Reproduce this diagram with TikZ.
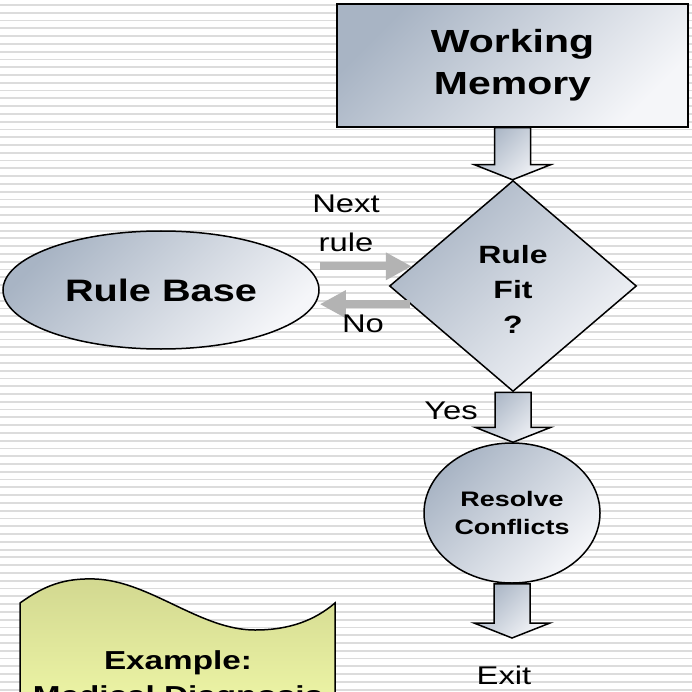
\documentclass[tikz,border=0pt]{standalone}
\usepackage{fontspec}
\setmainfont{Liberation Sans}[FakeStretch=1.28]
\usetikzlibrary{shapes.geometric,arrows.meta,calc}
\definecolor{bgline}{HTML}{DCDCDC}
\definecolor{sdark}{HTML}{A8B4C4}
\definecolor{slight}{HTML}{F5F6F9}
\definecolor{thinarrow}{HTML}{B3B3B3}
\definecolor{extop}{HTML}{D2D890}
\definecolor{exbot}{HTML}{F0F8A8}
\newcommand\blockarr[2]{%
  \path[shaded] let \p1=(#1), \p2=(#2) in
    (\x1-18pt,\y1) -- (\x1+18pt,\y1) -- (\x1+18pt,\y2+15pt) -- (\x1+38pt,\y2+15pt)
    -- (\x1,\y2) -- (\x1-38pt,\y2+15pt) -- (\x1-18pt,\y2+15pt) -- cycle;}
\begin{document}
\begin{tikzpicture}[x=1pt,y=-1pt,
  shaded/.style={draw=black, line width=1.5pt, top color=sdark, bottom color=slight, shading angle=45},
  thinarr/.style={draw=thinarrow, line width=8pt, -{Triangle[length=26pt,width=26pt]}},
  lbl/.style={inner sep=0pt, align=center, font=\fontsize{25.6}{39}\selectfont}]
\useasboundingbox (0,0) rectangle (692,692);
\clip (0,0) rectangle (692,692);
\fill[white] (0,0) rectangle (692,692);
\foreach \i in {0,...,89} \fill[bgline] (0,{5+7.78*\i-0.9}) rectangle (692,{5+7.78*\i+0.9});

% nodes
\node[shaded, rectangle, minimum width=351pt, minimum height=123pt, inner sep=0pt, align=center,
      font=\bfseries\fontsize{32}{42}\selectfont] (wm) at (512.5,65.5) {Working\\Memory};
\node[shaded, diamond, minimum width=247pt, minimum height=211pt, inner sep=0pt] (dia) at (513,286) {};
\node[inner sep=0pt, align=center, font=\bfseries\fontsize{25}{35}\selectfont] (diatext) at ($(dia)+(0,3)$) {Rule\\Fit\\?};
\node[shaded, ellipse, minimum width=316pt, minimum height=118pt, inner sep=0pt,
      font=\bfseries\fontsize{31}{35}\selectfont] (rb) at (161,290) {Rule Base};
\node[shaded, ellipse, minimum width=176pt, minimum height=140pt, inner sep=0pt, align=center,
      font=\bfseries\fontsize{21}{28}\selectfont] (rc) at (512,513) {Resolve\\Conflicts};
\coordinate (exitend) at (512,638);

% block arrows
\blockarr{wm.south}{dia.north}
\blockarr{dia.south}{rc.north}
\blockarr{rc.south}{exitend}

% thin arrows
\draw[thinarr] (rb.east |- dia.169) -- (dia.169);
\draw[thinarr] (dia.190) -- (rb.east |- dia.190);

% labels
\node[lbl] (next) at (346,223) {Next\\rule};
\node[lbl] (no) at (363,324) {No};
\node[lbl] (yes) at (451,411) {Yes};
\node[lbl] (exit) at (504,675) {Exit};

% example box
\path[draw=black, line width=1.5pt, top color=extop, bottom color=exbot]
  (20,603) .. controls (45,585) and (65,578) .. (95,579)
  .. controls (150,581) and (200,630) .. (255,630)
  .. controls (290,630) and (315,620) .. (335,603)
  -- (335,720) -- (20,720) -- cycle;
\node[inner sep=0pt, align=center, font=\bfseries\fontsize{26}{35}\selectfont] (ex) at (178,680) {Example:\\Medical Diagnosis};
\end{tikzpicture}
\end{document}
